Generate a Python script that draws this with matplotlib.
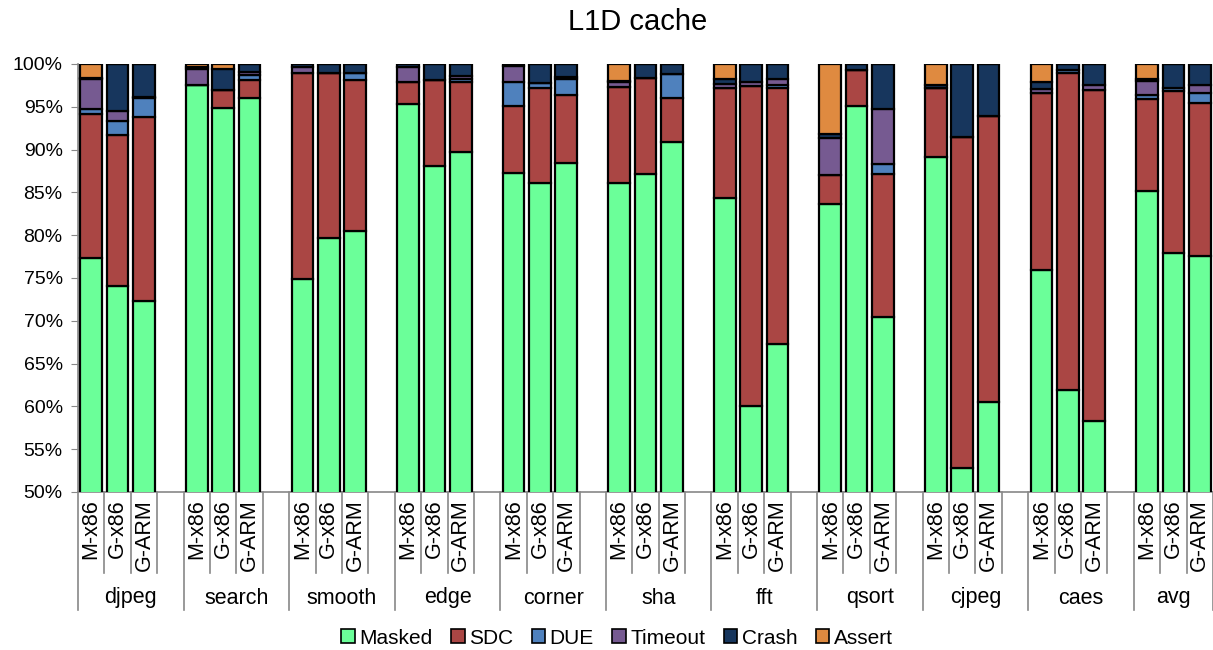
import numpy as np
import matplotlib.pyplot as plt
from matplotlib.patches import Patch
from matplotlib.transforms import blended_transform_factory

plt.rcParams.update({
    'font.family': ['Liberation Sans', 'DejaVu Sans'],
    'font.size': 12,
})

benchmarks = ['djpeg', 'search', 'smooth', 'edge', 'corner', 'sha',
              'fft', 'qsort', 'cjpeg', 'caes', 'avg']
configs = ['M-x86', 'G-x86', 'G-ARM']

# percentages, 3 configs per benchmark (M-x86, G-x86, G-ARM)
masked = [77.3, 74.1, 72.3,  97.5, 94.9, 96.0,  74.9, 79.7, 80.5,  95.3, 88.1, 89.7,
          87.3, 86.1, 88.4,  86.1, 87.2, 90.9,  84.3, 60.1, 67.3,  83.7, 95.1, 70.5,
          89.1, 52.8, 60.5,  75.9, 61.9, 58.3,  85.2, 77.9, 77.6]
sdc = [16.9, 17.6, 21.5,  0.0, 2.1, 2.1,  24.0, 19.2, 17.6,  2.6, 10.0, 8.2,
       7.8, 11.1, 8.0,  11.2, 11.2, 5.1,  12.9, 37.3, 29.9,  3.3, 4.2, 16.6,
       8.1, 38.7, 33.4,  20.7, 37.0, 38.7,  10.7, 18.9, 17.9]
due = [0.5, 1.6, 2.2,  0.0, 0.0, 0.6,  0.0, 0.0, 0.8,  0.0, 0.0, 0.3,
       2.8, 0.6, 1.8,  0.0, 0.0, 2.8,  0.0, 0.0, 0.3,  0.0, 0.0, 1.2,
       0.0, 0.0, 0.0,  0.0, 0.4, 0.0,  0.5, 0.4, 1.1]
timeout = [3.5, 1.2, 0.2,  1.9, 0.0, 0.4,  0.8, 0.0, 0.0,  1.8, 0.0, 0.4,
           1.9, 0.0, 0.3,  0.6, 0.0, 0.0,  0.5, 0.5, 0.7,  4.3, 0.0, 6.5,
           0.0, 0.0, 0.0,  0.5, 0.0, 0.6,  1.6, 0.0, 0.9]
crash = [0.2, 5.5, 3.8,  0.3, 2.4, 0.9,  0.3, 1.1, 1.1,  0.3, 1.9, 1.4,
         0.2, 2.2, 1.5,  0.1, 1.6, 1.2,  0.5, 2.1, 1.8,  0.5, 0.7, 5.2,
         0.3, 8.5, 6.1,  0.8, 0.7, 2.4,  0.2, 2.8, 2.5]
assert_ = [1.6, 0.0, 0.0,  0.3, 0.6, 0.0,  0.0, 0.0, 0.0,  0.0, 0.0, 0.0,
           0.0, 0.0, 0.0,  2.0, 0.0, 0.0,  1.8, 0.0, 0.0,  8.2, 0.0, 0.0,
           2.5, 0.0, 0.0,  2.1, 0.0, 0.0,  1.8, 0.0, 0.0]

series = [('Masked', masked, '#6bff99'),
          ('SDC', sdc, '#aa4644'),
          ('DUE', due, '#4f81bd'),
          ('Timeout', timeout, '#765a91'),
          ('Crash', crash, '#17365d'),
          ('Assert', assert_, '#df8a40')]

n_groups = len(benchmarks)
n_conf = len(configs)
slots = n_conf + 1  # one empty slot between groups
x = np.array([g * slots + k for g in range(n_groups) for k in range(n_conf)])
n_slots = n_groups * slots - 1

fig = plt.figure(figsize=(12.13, 6.5), dpi=100)
ax = fig.add_axes([78 / 1213, 1 - 492 / 650, 1 - 78 / 1213, 428 / 650])

bottom = np.zeros(len(x))
for name, vals, col in series:
    vals = np.array(vals)
    ax.bar(x, vals, bottom=bottom, width=0.82, color=col,
           edgecolor='black', linewidth=1.6, label=name, zorder=3)
    bottom += vals

ax.set_xlim(-0.5, n_slots - 0.5)
ax.set_ylim(50, 100)
ax.set_yticks(np.arange(50, 101, 5))
ax.set_yticklabels([f'{v}%' for v in range(50, 101, 5)], fontsize=14)
ax.tick_params(axis='y', direction='out', length=5, color='#888888', pad=6)
ax.set_xticks([])
for s in ['top', 'right']:
    ax.spines[s].set_visible(False)
for s in ['left', 'bottom']:
    ax.spines[s].set_color('#888888')
    ax.spines[s].set_linewidth(1.2)

# multi-level category axis
tr = blended_transform_factory(ax.transData, ax.transAxes)
short_len = -(573 - 492) / 428
long_len = -(610 - 492) / 428
for b in range(n_slots + 1):
    edge = b - 0.5
    is_group = (b % slots == 0) or b == n_slots
    ax.plot([edge, edge], [0, long_len if is_group else short_len],
            color='#888888', lw=1.2, transform=tr, clip_on=False)
for xi, lab in zip(x, configs * n_groups):
    ax.text(xi, -0.018, lab, rotation=90, ha='center', va='top',
            fontsize=15.5, transform=tr)
for g, name in enumerate(benchmarks):
    start = g * slots - 0.5
    end = min(start + slots, n_slots - 0.5)
    ax.text((start + end) / 2, -(598 - 492) / 428, name, ha='center',
            va='center', fontsize=15.5, transform=tr)

fig.text(0.526, 1 - 22 / 650, 'L1D cache', ha='center', va='center', fontsize=21)

handles = [Patch(facecolor=c, edgecolor='black', linewidth=1.2, label=n)
           for n, _, c in series]
fig.legend(handles=handles, loc='center', bbox_to_anchor=(617 / 1213, 1 - 638 / 650),
           ncol=6, frameon=False, fontsize=15, handlelength=0.65,
           handleheight=0.65, handletextpad=0.2, columnspacing=0.9)

fig.savefig('out.png', dpi=100)
